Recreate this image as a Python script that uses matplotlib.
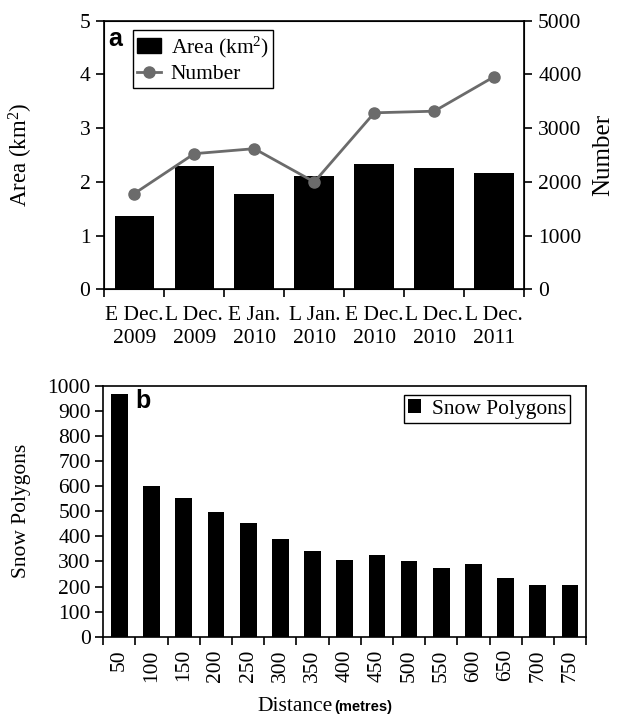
import numpy as np
import matplotlib.pyplot as plt
from matplotlib.patches import Rectangle
from matplotlib.lines import Line2D

plt.rcParams['font.family'] = ['Liberation Serif', 'DejaVu Serif']
plt.rcParams['mathtext.fontset'] = 'custom'
plt.rcParams['mathtext.rm'] = 'Liberation Serif'
plt.rcParams['mathtext.it'] = 'Liberation Serif'

# panel a: snow area and polygon count per survey
periods = ['E Dec.\n2009', 'L Dec.\n2009', 'E Jan.\n2010', 'L Jan.\n2010',
           'E Dec.\n2010', 'L Dec.\n2010', 'L Dec.\n2011']
area_km2 = [1.36, 2.30, 1.78, 2.10, 2.33, 2.26, 2.17]
polygon_number = [1782, 2525, 2618, 1998, 3286, 3316, 3960]

# panel b: snow polygons by distance
distance_m = ['50', '100', '150', '200', '250', '300', '350', '400',
              '450', '500', '550', '600', '650', '700', '750']
snow_polygons = [970, 602, 552, 499, 454, 389, 341, 307, 327, 300, 275, 290, 236, 206, 208]

fs = 15.5
grey = '#6b6b6b'

fig = plt.figure(figsize=(6.19, 7.16), dpi=100)

# ---- panel a ----
ax1 = fig.add_axes([0.1685, 0.596, 0.6785, 0.375])
x = np.arange(len(periods))
ax1.bar(x, area_km2, width=0.66, color='black')
ax1.set_xlim(-0.5, len(periods) - 0.5)
ax1.set_ylim(0, 5)
ax1.set_yticks(range(6))
ax1.set_xticks(np.arange(len(periods) + 1) - 0.5)
ax1.set_xticklabels([])
ax1.set_xticks(x, minor=True)
ax1.set_xticklabels(periods, minor=True, fontsize=fs, linespacing=1.3)
ax1.tick_params(axis='x', which='minor', length=0, pad=12)
ax1.tick_params(axis='x', which='major', direction='out', length=6, width=1.2)
ax1.tick_params(axis='y', direction='out', length=6, width=1.2, labelsize=fs, pad=4)
ax1.set_ylabel('Area (km$^{2}$)', fontsize=16.5, labelpad=32)
for s in ax1.spines.values():
    s.set_linewidth(1.2)

ax2 = ax1.twinx()
ax2.plot(x, polygon_number, color=grey, lw=2, marker='o', ms=8)
ax2.set_ylim(0, 5000)
ax2.set_yticks(range(0, 5001, 1000))
ax2.tick_params(axis='y', direction='out', length=6, width=1.2, labelsize=fs, pad=4)
ax2.set_ylabel('Number', fontsize=18, labelpad=8)

handles = [Rectangle((0, 0), 1, 1, color='black'),
           Line2D([], [], color=grey, lw=2, marker='o', ms=8)]
leg = ax2.legend(handles, ['Area (km$^{2}$)', 'Number'], loc='upper left',
                 bbox_to_anchor=(0.068, 0.965), fontsize=fs, fancybox=False,
                 edgecolor='black', framealpha=1, borderpad=0.2,
                 handlelength=1.1, handletextpad=0.45, labelspacing=0.2,
                 borderaxespad=0)
leg.get_frame().set_linewidth(1.0)
ax1.text(0.009, 0.975, 'a', transform=ax1.transAxes, fontsize=18,
         fontweight='bold', family='Liberation Sans', va='top', ha='left')

# ---- panel b ----
ax3 = fig.add_axes([0.1669, 0.1108, 0.780, 0.350])
xb = np.arange(len(distance_m))
ax3.bar(xb, snow_polygons, width=0.52, color='black', label='Snow Polygons')
ax3.set_xlim(-0.5, len(distance_m) - 0.5)
ax3.set_ylim(0, 1000)
ax3.set_yticks(range(0, 1001, 100))
ax3.set_xticks(np.arange(len(distance_m) + 1) - 0.5)
ax3.set_xticklabels([])
ax3.set_xticks(xb, minor=True)
ax3.set_xticklabels(distance_m, minor=True, rotation=90, fontsize=fs)
ax3.tick_params(axis='x', which='minor', length=0, pad=9)
ax3.tick_params(axis='x', which='major', direction='out', length=6, width=1.2)
ax3.tick_params(axis='y', direction='out', length=6, width=1.2, labelsize=fs, pad=3)
ax3.set_ylabel('Snow Polygons', fontsize=fs, labelpad=12)
for s in ax3.spines.values():
    s.set_linewidth(1.2)
leg2 = ax3.legend(loc='upper right', bbox_to_anchor=(0.967, 0.965), fontsize=fs,
                  fancybox=False, edgecolor='black', framealpha=1,
                  borderpad=0.2, handlelength=0.6, handleheight=0.6,
                  handletextpad=0.5, borderaxespad=0)
leg2.get_frame().set_linewidth(1.0)
ax3.text(0.066, 0.99, 'b', transform=ax3.transAxes, fontsize=18,
         fontweight='bold', family='Liberation Sans', va='top', ha='left')

fig.text(333 / 619, 1 - 711 / 716, 'Distance', fontsize=fs, ha='right', va='baseline')
fig.text(334 / 619, 1 - 711 / 716, '(metres)', fontsize=10.5, fontweight='bold',
         family='Liberation Sans', ha='left', va='baseline')

fig.savefig('out.png', dpi=100)
